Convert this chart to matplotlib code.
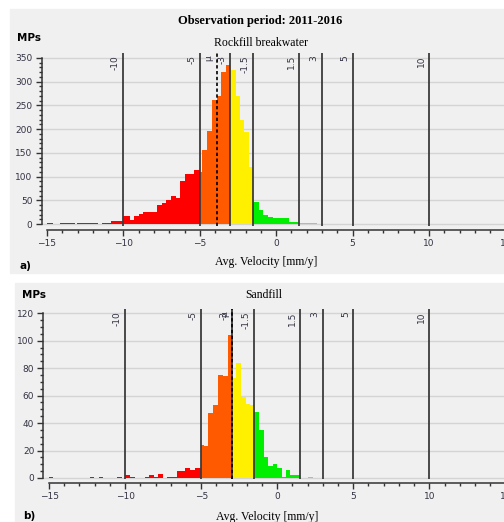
import numpy as np
import matplotlib
matplotlib.use("Agg")
import matplotlib.pyplot as plt
import matplotlib.ticker as tick
from matplotlib.patches import Rectangle

# histogram bins (mm/y) and number of MPs
a_edges = [-15.0, -14.6, -14.15, -13.7, -13.2, -13.05, -12.7, -12.35, -11.97, -11.64,
           -11.4, -11.1, -10.8, -10.44, -10.0, -9.6, -9.29, -8.95, -8.69, -8.4,
           -8.1, -7.82, -7.49, -7.21, -6.9, -6.58, -6.29, -5.97, -5.66, -5.36,
           -5.0, -4.83, -4.5, -4.18, -3.89, -3.61, -3.28, -3.0, -2.65, -2.37,
           -2.08, -1.78, -1.5, -1.13, -0.84, -0.52, -0.23, 0.05, 0.3, 0.58,
           0.86, 1.15, 1.5, 1.8, 2.1, 2.4, 2.65]
a_counts = [2, 0, 2, 3, 0, 2, 2, 2, 3, 0,
            2, 2, 7, 6, 17, 9, 17, 21, 26, 26,
            26, 41, 45, 51, 60, 54, 91, 105, 105, 113,
            110, 156, 196, 261, 269, 320, 335, 325, 269, 220,
            194, 121, 46, 30, 19, 15, 13, 13, 12, 12,
            4, 5, 2, 3, 2, 2]
a_mean = -3.89

b_edges = [-15.0, -14.72, -12.3, -12.02, -11.73, -11.45, -10.51, -10.22, -10.0, -9.67,
           -9.34, -8.69, -8.4, -8.1, -7.81, -7.48, -7.22, -6.9, -6.6, -6.3,
           -6.05, -5.73, -5.4, -5.0, -4.81, -4.53, -4.2, -3.87, -3.54, -3.26,
           -2.95, -2.73, -2.4, -2.07, -1.79, -1.5, -1.17, -0.87, -0.58, -0.3,
           0.01, 0.29, 0.58, 0.84, 1.17, 1.5, 2.04, 2.32]
b_counts = [1, 0, 1, 0, 1, 0, 1, 0, 2, 1,
            0, 1, 2, 1, 3, 0, 1, 1, 5, 5,
            7, 6, 7, 24, 23, 47, 53, 75, 74, 104,
            73, 84, 59, 54, 53, 48, 35, 15, 9, 10,
            7, 1, 6, 2, 2, 0, 1]
b_mean = -2.95

class_limits = [-10, -5, -3, -1.5, 1.5, 3, 5, 10]
class_labels = ["-10", "-5", "-3", "-1.5", "1.5", "3", "5", "10"]
class_colors = ["#ff0000", "#ff5a00", "#fff000", "#00ee00", "#40e8f0", "#3070ff"]

W, H = 504, 522
TXT = "#333344"
plt.rcParams['font.family'] = ['DejaVu Sans']


def bar_color(mid):
    for lim, col in zip([-5, -3, -1.5, 1.5, 3], class_colors):
        if mid < lim:
            return col
    return class_colors[-1]


def panel(fig, box, xlim, ylim, edges, counts, mean, ymax, ystep, yminor):
    # box = (left px, top px, right px, bottom px)
    l, t, r, b = box
    ax = fig.add_axes([l / W, 1 - b / H, (r - l) / W, (b - t) / H])
    ax.set_facecolor("none")
    ax.set_xlim(*xlim)
    ax.set_ylim(*ylim)

    edges = np.array(edges)
    widths = np.diff(edges)
    mids = edges[:-1] + widths / 2
    ax.bar(edges[:-1], counts, width=widths, align="edge",
           color=[bar_color(m) for m in mids], linewidth=0, zorder=2)

    ax.vlines(class_limits, ylim[0] + (ylim[1] - ylim[0]) * 0.025, ylim[1],
              colors="#3c3c3c", linewidth=1.3, zorder=3)
    ax.vlines([mean], ylim[0] + (ylim[1] - ylim[0]) * 0.025, ylim[1],
              colors="black", linewidth=1.2, linestyles=(0, (2, 1.5)), zorder=4)
    for x, lab in zip(class_limits + [mean], class_labels + ["μ"]):
        ax.annotate(lab, (x, ylim[1]), xytext=(-2.5, -1.5), textcoords="offset points",
                    rotation=90, ha="right", va="top", fontsize=6.5, color=TXT)

    ax.spines["top"].set_visible(False)
    ax.spines["right"].set_visible(False)
    for s in ("left", "bottom"):
        ax.spines[s].set_color("#333333")
        ax.spines[s].set_linewidth(1.1)
    ax.spines["left"].set_bounds(0, ymax)
    ax.spines["bottom"].set_bounds(-15, xlim[1])

    ax.xaxis.set_major_locator(tick.MultipleLocator(5))
    ax.xaxis.set_minor_locator(tick.MultipleLocator(1))
    ax.yaxis.set_major_locator(tick.FixedLocator(np.arange(0, ymax + 1, ystep)))
    ax.yaxis.set_minor_locator(tick.FixedLocator(np.arange(0, ymax + 1, yminor)))
    ax.tick_params(which="major", length=4.5, width=1, color="#333333",
                   labelsize=6.5, labelcolor=TXT, pad=2)
    ax.tick_params(which="minor", length=2.3, width=1, color="#333333")
    ax.set_axisbelow(True)
    ax.yaxis.grid(True, which="major", color="#d4d4d4", linewidth=1)
    return ax


fig = plt.figure(figsize=(W / 100, H / 100), dpi=100)
fig.patches.append(Rectangle((10 / W, 1 - 273 / H), (W - 10) / W, 264 / H,
                             transform=fig.transFigure, color="#f0f0f0", zorder=-5))
fig.patches.append(Rectangle((15 / W, 0), (W - 15) / W, 1 - 283 / H,
                             transform=fig.transFigure, color="#f0f0f0", zorder=-5))

# a) Rockfill breakwater
panel(fig, (41.5, 53, 514.6, 230), (-15.36, 15.6), (-12.6, 360.5),
      a_edges, a_counts, a_mean, 350, 50, 10)
# b) Sandfill
panel(fig, (43.3, 309.3, 514.5, 483.3), (-15.38, 15.6), (-3.9, 122.9),
      b_edges, b_counts, b_mean, 120, 20, 5)

serif = "Liberation Serif"
fig.text(260 / W, 1 - 21 / H, "Observation period: 2011-2016", family=serif,
         weight="bold", fontsize=9, ha="center", va="center")
fig.text(17 / W, 1 - 38 / H, "MPs", weight="bold", fontsize=7.5, ha="left", va="center")
fig.text(261 / W, 1 - 43 / H, "Rockfill breakwater", family=serif, fontsize=8.5,
         ha="center", va="center")
fig.text(266 / W, 1 - 262 / H, "Avg. Velocity [mm/y]", family=serif, fontsize=8.5,
         ha="center", va="center")
fig.text(19 / W, 1 - 266 / H, "a)", weight="bold", fontsize=7.5, ha="left", va="center")

fig.text(22 / W, 1 - 295 / H, "MPs", weight="bold", fontsize=7.5, ha="left", va="center")
fig.text(264 / W, 1 - 295 / H, "Sandfill", family=serif, fontsize=8.5,
         ha="center", va="center")
fig.text(267 / W, 1 - 517 / H, "Avg. Velocity [mm/y]", family=serif, fontsize=8.5,
         ha="center", va="center")
fig.text(23 / W, 1 - 516 / H, "b)", weight="bold", fontsize=7.5, ha="left", va="center")

fig.savefig("out.png", dpi=100, facecolor="white")
